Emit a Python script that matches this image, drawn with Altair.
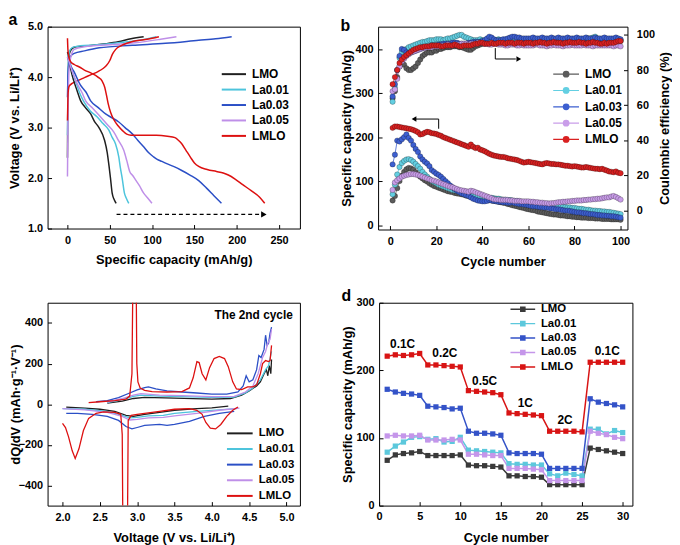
import altair as alt
import pandas as pd

FONT = "Liberation Sans"
SERIES = ["LMO", "La0.01", "La0.03", "La0.05", "LMLO"]
LINE_COLORS = ["#1f1f1f", "#4dc4dc", "#2b4fc6", "#bf8fe8", "#dd1010"]
B_FILL = ["#5c5c5c", "#63cfe2", "#3d5fd0", "#c99de9", "#d92121"]
D_COLORS = ["#3a3a3a", "#5cc8dc", "#3453c8", "#c596ea", "#d81414"]

# ---------------- panel a : charge / discharge profiles ----------------
A_CHG_CAP = {
    "LMO": [0, 0.3, 0.7, 1.2, 2, 5, 10, 25, 45, 60, 75, 90],
    "La0.01": [0, 0.3, 0.7, 1.2, 2.5, 6, 15, 35, 60, 85, 105],
    "La0.03": [0, 0.3, 0.8, 2, 4, 8, 20, 37.6, 76.7, 115.8, 155, 175, 194],
    "La0.05": [0, 0.3, 0.8, 2, 4, 8, 20, 50, 80, 110, 128.7],
    "LMLO": [0, 0.3, 0.8, 2, 6, 12, 20, 28, 36, 42, 46, 50, 53, 57, 63, 70, 78, 90, 100, 108],
}
A_CHG_V = {
    "LMO": [2.4, 3.2, 3.9, 4.25, 4.45, 4.56, 4.6, 4.62, 4.66, 4.7, 4.76, 4.8],
    "La0.01": [2.85, 3.3, 4.0, 4.35, 4.52, 4.59, 4.62, 4.64, 4.68, 4.73, 4.8],
    "La0.03": [3.6, 3.85, 4.1, 4.3, 4.42, 4.47, 4.52, 4.58, 4.63, 4.67, 4.73, 4.76, 4.8],
    "La0.05": [2.03, 2.6, 3.4, 4.2, 4.4, 4.55, 4.6, 4.64, 4.68, 4.75, 4.8],
    "LMLO": [3.14, 3.4, 3.7, 3.82, 3.88, 3.93, 3.99, 4.05, 4.11, 4.17, 4.23, 4.33, 4.45, 4.55, 4.62, 4.67, 4.71, 4.74, 4.77, 4.8],
}
A_DIS_CAP = {
    "LMO": [0, 2, 4, 7, 11, 15.6, 21, 27.4, 32, 37.2, 43.8, 47, 49, 50.8, 52.8, 55, 57.5],
    "La0.01": [0, 3, 6, 10, 14, 18.8, 27, 35.2, 42, 48.9, 53, 56.7, 60.6, 62.5, 64.6, 67.3, 69.5, 72.4],
    "La0.03": [0, 3, 8, 15, 22, 27.4, 36, 45, 52, 60.6, 68, 76.3, 83, 90, 96, 101.7, 106, 111.5, 118, 125.2, 135, 144.7, 155, 164.3, 173, 181.9],
    "La0.05": [0, 3, 7, 12, 17, 21.5, 30, 39.1, 47, 54.8, 60, 66.5, 70, 73.5, 77, 80.2, 85, 90, 95, 99.8],
    "LMLO": [0, 0.5, 1.5, 4, 8, 14, 20, 28, 36, 41, 44, 46, 48, 51, 55, 60, 65, 70, 75, 90, 105, 118, 127, 131, 135, 140, 145, 150, 155, 165, 176, 184, 190, 198, 207, 217, 227, 233],
}
A_DIS_V = {
    "LMO": [4.5, 4.35, 4.15, 3.95, 3.75, 3.53, 3.4, 3.27, 3.12, 3.0, 2.75, 2.5, 2.25, 2.0, 1.7, 1.58, 1.5],
    "La0.01": [4.45, 4.3, 4.1, 3.9, 3.7, 3.53, 3.33, 3.21, 3.08, 2.95, 2.8, 2.68, 2.42, 2.2, 2.0, 1.7, 1.6, 1.5],
    "La0.03": [4.4, 4.25, 4.1, 3.85, 3.7, 3.53, 3.4, 3.27, 3.2, 3.11, 3.0, 2.88, 2.75, 2.62, 2.5, 2.42, 2.37, 2.33, 2.28, 2.23, 2.15, 2.06, 1.95, 1.8, 1.65, 1.5],
    "La0.05": [4.4, 4.25, 4.05, 3.85, 3.7, 3.53, 3.38, 3.21, 3.06, 2.91, 2.75, 2.55, 2.35, 2.13, 2.05, 1.97, 1.85, 1.7, 1.6, 1.5],
    "LMLO": [4.77, 4.55, 4.4, 4.3, 4.25, 4.2, 4.14, 4.08, 4.0, 3.92, 3.8, 3.65, 3.48, 3.3, 3.15, 3.03, 2.94, 2.87, 2.85, 2.85, 2.85, 2.83, 2.8, 2.75, 2.68, 2.55, 2.42, 2.3, 2.23, 2.17, 2.13, 2.1, 2.06, 1.98, 1.87, 1.75, 1.62, 1.5],
}
A_ARROW_CAP = [58, 229]
A_ARROW_HEAD_CAP = [232]
A_ARROW_V = [1.28]

# ---------------- panel b : cycling ----------------
B_CAP = {
    "LMO": [56, 66, 84, 100, 112, 121, 127, 130, 129, 126, 120, 115, 110, 106, 102, 99, 95, 92, 89, 87,
            85, 83, 81, 79, 77, 76, 75, 73, 72, 71, 70, 69, 67, 66, 65, 64, 63, 62, 61, 60,
            59, 58, 57, 56, 55, 54, 53, 52, 51, 50, 48, 47, 45, 44, 43, 41, 40, 39, 37, 36,
            35, 34, 33, 31, 30, 29, 28, 27, 26, 25, 24, 24, 23, 22, 22, 21, 20, 20, 19, 19,
            18, 18, 17, 17, 17, 16, 16, 16, 15, 15, 15, 14, 14, 14, 14, 13, 13, 13, 13, 12],
    "La0.01": [70, 92, 115, 132, 141, 146, 149, 150, 148, 144, 139, 134, 128, 121, 115, 110, 105, 101, 98, 95,
               92, 90, 88, 86, 84, 82, 80, 79, 78, 76, 75, 74, 72, 71, 70, 68, 67, 66, 65, 64,
               63, 63, 62, 62, 61, 60, 60, 59, 58, 58, 57, 57, 56, 55, 55, 54, 53, 52, 51, 50,
               50, 49, 48, 47, 47, 46, 46, 45, 45, 44, 44, 43, 43, 42, 42, 41, 40, 40, 39, 39,
               38, 37, 37, 36, 35, 35, 34, 33, 33, 32, 32, 31, 31, 30, 30, 29, 28, 27, 26, 25],
    "La0.03": [138, 160, 192, 190, 195, 200, 206, 198, 192, 182, 173, 166, 156, 149, 144, 140, 134, 125, 121, 117,
               114, 110, 105, 100, 95, 90, 86, 82, 78, 75, 72, 70, 68, 66, 63, 60, 58, 56, 55, 54,
               54, 55, 57, 56, 55, 54, 53, 53, 52, 52, 51, 51, 52, 50, 49, 48, 48, 47, 46, 45,
               44, 43, 43, 42, 41, 41, 40, 40, 39, 38, 37, 36, 36, 35, 34, 33, 33, 32, 31, 30,
               29, 29, 28, 27, 27, 26, 25, 25, 24, 23, 23, 22, 22, 21, 21, 20, 20, 19, 18, 17],
    "La0.05": [80, 97, 102, 106, 110, 112, 114, 115, 116, 116, 115, 114, 112, 110, 108, 106, 104, 102, 101, 99,
               97, 95, 93, 91, 89, 87, 86, 84, 82, 80, 79, 78, 77, 76, 78, 77, 75, 73, 71, 69,
               67, 65, 63, 61, 59, 58, 58, 57, 57, 57, 57, 56, 56, 55, 55, 55, 54, 54, 54, 54,
               53, 53, 52, 52, 51, 51, 50, 50, 49, 50, 50, 51, 52, 52, 53, 53, 54, 54, 55, 55,
               56, 56, 56, 57, 57, 58, 58, 59, 59, 60, 60, 61, 62, 63, 63, 65, 66, 64, 61, 58],
    "LMLO": [221, 224, 224, 223, 222, 221, 220, 219, 218, 216, 214, 211, 206, 207, 210, 212, 211, 209, 208, 207,
             205, 203, 200, 198, 196, 194, 192, 190, 188, 186, 184, 182, 180, 178, 183, 178, 175, 176, 172, 170,
             168, 165, 162, 160, 158, 157, 156, 155, 155, 154, 152, 151, 150, 149, 148, 146, 144, 142, 143, 144,
             143, 142, 141, 140, 139, 138, 140, 141, 140, 139, 139, 138, 138, 137, 136, 135, 135, 134, 133, 134,
             133, 132, 131, 131, 132, 131, 130, 129, 128, 128, 127, 128, 126, 124, 122, 121, 120, 122, 119, 118],
}
B_CE = {
    "LMO": [64, 68, 76, 82, 84, 83, 81, 80, 80, 81, 82, 84, 86, 88, 89, 90, 90, 90, 91, 91,
            92, 92, 92.5, 93, 93, 93, 93.5, 93.5, 93.5, 93, 93, 92.5, 92, 91.5, 91.5, 92.5, 93.5, 94, 94.5, 95,
            95, 95.5, 95, 95, 95.5, 95.5, 95, 95.5, 96, 96, 96, 96, 96.5, 96, 96, 96, 96.5, 96, 96, 96,
            96, 96.5, 96, 96, 96.5, 96, 96, 96.5, 96, 96, 96.5, 96, 96, 96.5, 96, 96, 96.5, 96, 96, 96,
            96.5, 96, 96, 96.5, 96, 96, 96, 96.5, 96, 96, 96.5, 96, 96, 96.5, 96, 96, 96.5, 96, 96, 96.5],
    "La0.01": [62, 70, 80, 87, 90, 91, 92, 93, 93.5, 94, 94.5, 95, 95.5, 96, 96, 96.5, 97, 97, 97, 97.5,
               97.5, 97.5, 97, 97.5, 98, 98, 98.5, 99, 99.5, 100, 100, 99, 98.5, 98, 97.5, 97, 97, 97, 97.5, 97,
               97, 97, 97.5, 97.5, 97, 97, 97.5, 97, 97, 97, 97.5, 97.5, 98, 98, 97.5, 97.5, 97, 97, 97.5, 97.5,
               97.5, 97, 97, 97.5, 97.5, 97.5, 97, 97, 97.5, 97.5, 97, 97, 97.5, 97.5, 97, 97.5, 97.5, 97, 97.5, 97.5,
               97.5, 97, 97.5, 97.5, 97.5, 98, 98, 98.5, 99, 98, 97.5, 97.5, 97, 97.5, 97.5, 97, 97.5, 97, 97.5, 97],
    "La0.03": [65, 72, 80, 88, 92, 91.5, 90, 89.5, 90, 90.5, 91, 91.5, 92, 92.5, 93, 93, 93.5, 94, 94, 94,
               94.5, 94.5, 95, 95, 95, 95, 95.5, 95.5, 95.5, 95, 95, 95, 95, 95.5, 95.5, 96, 96, 96, 96, 96.5,
               97, 98, 99, 98.5, 97.5, 97, 97, 97, 97.5, 97.5, 98, 98.5, 99, 99, 98.5, 98.5, 98, 98, 98, 98,
               98, 98.5, 98, 98, 98, 98.5, 98, 98, 98, 98.5, 98, 98, 98.5, 98, 98, 98, 98.5, 98, 98, 98,
               98.5, 98, 98, 98, 98.5, 98, 98, 98, 98.5, 98, 98, 98, 98.5, 98, 98, 98, 98, 98.5, 98, 97.5],
    "La0.05": [68, 69, 75, 82, 85, 86.5, 88, 89, 90, 90.5, 91, 91.5, 92, 92.5, 92.5, 93, 93, 93, 93.5, 93.5,
               93.5, 94, 94, 94, 94.5, 94, 94, 94.5, 94.5, 94.5, 95, 95, 95, 94.5, 95, 95, 95, 95.5, 95.5, 95.5,
               95, 95, 94.5, 94.5, 95, 95, 94.5, 94.5, 94.5, 94, 94, 94.5, 94.5, 94.5, 94, 94, 94.5, 94, 94, 94,
               94, 94, 94.5, 94.5, 94, 94, 94, 93.5, 94, 94, 94.5, 94, 94, 94, 93.5, 94, 94, 94, 94.5, 94,
               94, 94, 94, 94.5, 94, 94, 94, 93.5, 94, 94, 94, 94, 94, 94, 94, 94, 93.5, 94, 94, 93.5],
    "LMLO": [72, 76, 80, 84, 86, 87.5, 88.5, 89.5, 90.5, 91.5, 92, 92.5, 93, 93, 93.5, 93.5, 93.5, 94, 94, 94,
             94, 93.5, 93.5, 94, 94, 94, 94, 94.5, 94, 93.5, 93.5, 94, 94, 94, 94, 94.5, 95, 95, 95.5, 95.5,
             95, 95, 95, 95.5, 95, 95, 95.5, 95.5, 95.5, 95, 95.5, 95.5, 95.5, 95, 95.5, 95.5, 95.5, 95, 95.5, 95.5,
             95.5, 95, 95.5, 95.5, 96, 95.5, 95.5, 95, 95.5, 95.5, 96, 95.5, 95.5, 95.5, 95, 95.5, 95.5, 96, 95.5, 95.5,
             95.5, 96, 95.5, 95.5, 95, 95.5, 95.5, 96, 95.5, 95.5, 95, 95, 95.5, 95, 95.5, 95.5, 95.5, 96, 96.5, 96.5],
}
B_CAP_ARROW_X = [21, 21, 11]
B_CAP_ARROW_Y = [219, 241, 241]
B_CAP_HEAD = [10.3, 241]
B_CE_ARROW_X = [45.6, 45.6, 54.5]
B_CE_ARROW_Y = [92.5, 86.3, 86.3]
B_CE_HEAD = [55.8, 86.3]

# ---------------- panel c : dQ/dV ----------------
C_CHG_V = {
    "LMO": [2.6, 2.8, 2.95, 3.1, 3.5, 4.0, 4.25, 4.4, 4.5, 4.6, 4.65, 4.7, 4.73, 4.75, 4.77, 4.79, 4.8],
    "La0.01": [2.6, 2.8, 2.95, 3.05, 3.3, 3.6, 4.0, 4.3, 4.45, 4.55, 4.65, 4.72, 4.76, 4.8],
    "La0.03": [2.45, 2.6, 2.75, 2.9, 3.0, 3.1, 3.15, 3.25, 3.4, 3.6, 3.8, 4.0, 4.2, 4.35, 4.42, 4.46, 4.5, 4.55, 4.6, 4.63, 4.66, 4.7, 4.72, 4.74, 4.76, 4.78, 4.8],
    "La0.05": [2.6, 2.8, 2.95, 3.05, 3.3, 3.6, 4.0, 4.3, 4.45, 4.55, 4.62, 4.68, 4.72, 4.75, 4.78, 4.8],
    "LMLO": [2.35, 2.5, 2.7, 2.85, 2.9, 2.93, 2.945, 2.965, 2.985, 2.995, 3.01, 3.04, 3.1, 3.2, 3.4, 3.6, 3.7, 3.75, 3.8, 3.83, 3.87, 3.92, 3.97, 4.03, 4.1, 4.17, 4.22, 4.28, 4.33, 4.4, 4.48, 4.55, 4.6, 4.65, 4.68, 4.72, 4.76, 4.78, 4.8],
}
C_CHG_D = {
    "LMO": [5, 15, 28, 33, 30, 25, 28, 45, 65, 90, 110, 150, 170, 140, 190, 150, 220],
    "La0.01": [8, 22, 38, 45, 40, 37, 33, 35, 55, 80, 120, 170, 190, 260],
    "La0.03": [12, 18, 32, 55, 70, 82, 85, 75, 65, 60, 55, 50, 50, 60, 90, 140, 110, 120, 170, 240, 230, 270, 340, 290, 300, 350, 380],
    "La0.05": [10, 28, 45, 52, 45, 42, 37, 38, 60, 90, 150, 230, 260, 300, 320, 370],
    "LMLO": [8, 12, 17, 25, 40, 150, 700, 1300, 700, 200, 110, 80, 68, 62, 60, 62, 80, 130, 210, 205, 150, 120, 180, 225, 235, 225, 185, 110, 75, 72, 85, 85, 95, 150, 200, 215, 210, 215, 290],
}
C_DIS_V = {
    "LMO": [4.22, 4.0, 3.8, 3.5, 3.3, 3.1, 2.95, 2.85, 2.7, 2.5, 2.3, 2.05],
    "La0.01": [4.33, 4.1, 3.8, 3.5, 3.35, 3.15, 3.0, 2.9, 2.8, 2.6, 2.3, 2.0],
    "La0.03": [4.3, 4.1, 3.9, 3.7, 3.5, 3.4, 3.3, 3.1, 3.0, 2.93, 2.85, 2.75, 2.6, 2.4, 2.2, 2.05],
    "La0.05": [4.37, 4.1, 3.8, 3.5, 3.35, 3.15, 3.0, 2.9, 2.8, 2.6, 2.3, 2.0],
    "LMLO": [4.35, 4.28, 4.2, 4.12, 4.05, 3.98, 3.92, 3.87, 3.8, 3.7, 3.5, 3.3, 3.1, 3.0, 2.92, 2.88, 2.87, 2.84, 2.81, 2.8, 2.78, 2.7, 2.55, 2.45, 2.35, 2.28, 2.22, 2.17, 2.13, 2.08, 2.04, 2.0],
}
C_DIS_D = {
    "LMO": [-10, -18, -22, -30, -40, -50, -60, -55, -35, -25, -20, -15],
    "La0.01": [-22, -28, -35, -45, -55, -58, -65, -68, -55, -35, -25, -22],
    "La0.03": [-35, -45, -60, -85, -100, -105, -100, -105, -115, -122, -110, -80, -60, -50, -45, -45],
    "La0.05": [-20, -30, -45, -58, -65, -68, -75, -78, -60, -40, -28, -22],
    "LMLO": [-14, -30, -60, -100, -122, -118, -90, -50, -30, -22, -25, -35, -45, -50, -55, -80, -600, -1300, -700, -150, -50, -40, -38, -45, -70, -130, -220, -268, -230, -160, -115, -95],
}
C_NOTE = ["The 2nd cycle"]
C_NOTE_V = [5.085]
C_NOTE_D = [437]

# ---------------- panel d : rate capability ----------------
D_CAP = {
    "LMO": [67, 75, 77, 78, 80, 74, 74, 74, 74, 75, 60, 59, 59, 58, 57, 44, 44, 43, 43, 42, 31, 31, 31, 31, 31, 85, 83, 81, 79, 77],
    "La0.01": [79, 88, 94, 101, 102, 98, 99, 94, 95, 101, 82, 81, 80, 79, 78, 62, 61, 61, 60, 60, 47, 44, 48, 46, 44, 113, 113, 106, 111, 108],
    "La0.03": [172, 168, 166, 165, 163, 147, 146, 145, 143, 144, 110, 107, 107, 106, 104, 78, 77, 77, 77, 76, 55, 55, 55, 55, 55, 158, 153, 151, 149, 146],
    "La0.05": [103, 104, 103, 103, 104, 97, 97, 97, 98, 97, 76, 76, 75, 74, 74, 55, 55, 55, 54, 53, 37, 37, 37, 37, 37, 110, 107, 105, 101, 99],
    "LMLO": [221, 223, 222, 223, 225, 208, 208, 207, 206, 205, 170, 169, 168, 167, 164, 137, 136, 135, 134, 133, 110, 110, 110, 110, 109, 212, 212, 212, 212, 212],
}
D_RATE_TEXT = ["0.1C", "0.2C", "0.5C", "1C", "2C", "0.1C"]
D_RATE_X = [2.9, 8.1, 13.0, 18.0, 22.9, 28.1]
D_RATE_Y = [239, 225, 184, 151, 126, 228]


# ---------------- helpers ----------------
def axis(values, title, orient, fmt=None, pad=9, titleX=None, titleY=None,
         angle=None, base=None):
    kw = dict(values=values, title=title, orient=orient, tickSize={"expr": "-4"},
              tickColor="black", tickWidth=1, labelPadding=pad, labelFont=FONT,
              labelFontSize=11, labelFontWeight="bold", labelColor="black", titleFont=FONT,
              titleFontSize=13, titleFontWeight="bold", titleColor="black", domain=False,
              grid=False, labelFlush=False, labelOverlap=False)
    if fmt:
        kw["format"] = fmt
    if titleX is not None:
        kw["titleX"] = titleX
    if titleY is not None:
        kw["titleY"] = titleY
    if angle is not None:
        kw["titleAngle"] = angle
    if base:
        kw["titleBaseline"] = base
    return alt.Axis(**kw)


def legend(x, y, rowpad, fs, symtype, symsize, symw, loff):
    return alt.Legend(title=None, orient="none", legendX=x, legendY=y, direction="vertical",
                      padding=0, rowPadding=rowpad, labelFont=FONT, labelFontSize=fs,
                      labelFontWeight="bold", labelColor="black", labelOffset=loff,
                      symbolType=symtype, symbolSize=symsize, symbolStrokeWidth=symw,
                      symbolOpacity=1)


def ptitle(t):
    return alt.TitleParams(text=t, anchor="start", frame="bounds", fontSize=16,
                           fontWeight="bold", font=FONT, offset=-7, color="black")


def curve_df(xd, yd, seg):
    rows = []
    for s in SERIES:
        for i, (x, y) in enumerate(zip(xd[s], yd[s])):
            rows.append(dict(series=s, seg=f"{s}-{seg}", i=i, x=x, y=y))
    return rows


def circle_path(r):
    return f"M{-r},0A{r},{r},0,1,0,{r},0A{r},{r},0,1,0,{-r},0"


def square_path(h):
    return f"M{-h},{-h}H{h}V{h}H{-h}Z"


# ---------------- panel a ----------------
df_a = pd.DataFrame(curve_df(A_CHG_CAP, A_CHG_V, "c") + curve_df(A_DIS_CAP, A_DIS_V, "d"))
xa = alt.Scale(domain=[-23.5, 274.6], nice=False, zero=False)
ya = alt.Scale(domain=[1, 5], nice=False, zero=False)
a_lines = alt.Chart(df_a).mark_line(strokeWidth=1.5, clip=True, interpolate="monotone").encode(
    x=alt.X("x:Q", scale=xa, axis=axis([0, 50, 100, 150, 200, 250], "Specific capacity (mAh/g)",
                                       "bottom", pad=10, titleY=35, base="alphabetic")),
    y=alt.Y("y:Q", scale=ya, axis=axis([1, 1.5, 2, 2.5, 3, 3.5, 4, 4.5, 5], "Voltage (V vs. Li/Li⁺)",
                                       "left", fmt=".1f", titleX=-33.5, base="middle")),
    color=alt.Color("series:N", scale=alt.Scale(domain=SERIES, range=LINE_COLORS),
                    legend=legend(181.25, 41, 2.6, 12, "M-2.04,0H2.04", 144, 2, 11.25)),
    detail="seg:N",
    order="i:Q",
)
df_a_arrow = pd.DataFrame({"x": [A_ARROW_CAP[0]], "x2": [A_ARROW_CAP[1]], "y": A_ARROW_V})
a_arrow = alt.Chart(df_a_arrow).mark_rule(color="black", strokeWidth=1.2, strokeDash=[4, 3]).encode(
    x="x:Q", x2="x2:Q", y="y:Q")
df_a_head = pd.DataFrame({"x": A_ARROW_HEAD_CAP, "y": A_ARROW_V})
a_head = alt.Chart(df_a_head).mark_point(shape="triangle-right", filled=True, size=40,
                                         color="black", opacity=1).encode(x="x:Q", y="y:Q")
chart_a = alt.layer(a_lines, a_arrow, a_head).properties(width=255, height=204, title=ptitle("a"))

# ---------------- panel b ----------------
rows_cap, rows_ce = [], []
for s in SERIES:
    for i, v in enumerate(B_CAP[s]):
        rows_cap.append(dict(series=s, cycle=i + 1, v=v))
    for i, v in enumerate(B_CE[s]):
        rows_ce.append(dict(series=s, cycle=i + 1, v=v))
df_cap = pd.DataFrame(rows_cap)
df_ce = pd.DataFrame(rows_ce)

xb = alt.Scale(domain=[-5.3, 103], nice=False, zero=False)
yb = alt.Scale(domain=[-10, 451], nice=False, zero=False)
yb2 = alt.Scale(domain=[-10.7, 104.7], nice=False, zero=False)
b_x_axis = axis([0, 20, 40, 60, 80, 100], "Cycle number", "bottom", pad=10, titleY=36,
                base="alphabetic")
b_sym = "M-2.17,0H2.17" + circle_path(0.47) + circle_path(0.28) + circle_path(0.1)
b_leg = legend(183, 41, 3.5, 12, b_sym, 144, 1.2, 12)
col_b = alt.Color("series:N", scale=alt.Scale(domain=SERIES, range=B_FILL), legend=b_leg)


def b_layer(df, yscale, yaxis, ax_x):
    base = alt.Chart(df).encode(
        x=alt.X("cycle:Q", scale=xb, axis=ax_x),
        y=alt.Y("v:Q", scale=yscale, axis=yaxis),
    )
    ln = base.mark_line(strokeWidth=0.8).encode(color=col_b, order="cycle:Q")
    pt = base.mark_point(shape="circle", filled=True, size=30, strokeWidth=0.7, opacity=1,
                         stroke="black", strokeOpacity=0.35).encode(color=col_b)
    return ln, pt


cap_ln, cap_pt = b_layer(df_cap, yb, axis([0, 100, 200, 300, 400], "Specific capacity (mAh/g)",
                                          "left", titleX=-32, base="middle"), b_x_axis)
ce_ln, ce_pt = b_layer(df_ce, yb2, axis([0, 20, 40, 60, 80, 100], "Coulombic efficiency (%)",
                                        "right", pad=13, titleX=37, angle=270, base="middle"),
                       b_x_axis)

df_cap_arrow = pd.DataFrame({"x": B_CAP_ARROW_X, "y": B_CAP_ARROW_Y, "i": [0, 1, 2]})
cap_arrow = alt.Chart(df_cap_arrow).mark_line(color="black", strokeWidth=1).encode(
    x=alt.X("x:Q", scale=xb), y=alt.Y("y:Q", scale=yb), order="i:Q")
cap_head = alt.Chart(pd.DataFrame({"x": [B_CAP_HEAD[0]], "y": [B_CAP_HEAD[1]]})).mark_point(
    shape="triangle-left", filled=True, size=30, color="black", opacity=1).encode(
    x=alt.X("x:Q", scale=xb), y=alt.Y("y:Q", scale=yb))
df_ce_arrow = pd.DataFrame({"x": B_CE_ARROW_X, "y": B_CE_ARROW_Y, "i": [0, 1, 2]})
ce_arrow = alt.Chart(df_ce_arrow).mark_line(color="black", strokeWidth=1).encode(
    x=alt.X("x:Q", scale=xb), y=alt.Y("y:Q", scale=yb2), order="i:Q")
ce_head = alt.Chart(pd.DataFrame({"x": [B_CE_HEAD[0]], "y": [B_CE_HEAD[1]]})).mark_point(
    shape="triangle-right", filled=True, size=30, color="black", opacity=1).encode(
    x=alt.X("x:Q", scale=xb), y=alt.Y("y:Q", scale=yb2))

left_b = alt.layer(cap_ln, cap_pt, cap_arrow, cap_head)
right_b = alt.layer(ce_ln, ce_pt, ce_arrow, ce_head)
chart_b = alt.layer(left_b, right_b).resolve_scale(y="independent").properties(
    width=252, height=205, title=ptitle("b"))

# ---------------- panel c ----------------
df_c = pd.DataFrame(curve_df(C_CHG_V, C_CHG_D, "c") + curve_df(C_DIS_V, C_DIS_D, "d"))
xc = alt.Scale(domain=[1.8, 5.18], nice=False, zero=False)
yc = alt.Scale(domain=[-500, 500], nice=False, zero=False)
c_lines = alt.Chart(df_c).mark_line(strokeWidth=1.3, clip=True).encode(
    x=alt.X("x:Q", scale=xc, axis=axis([2.0, 2.5, 3.0, 3.5, 4.0, 4.5, 5.0], "Voltage (V vs. Li/Li⁺)",
                                       "bottom", fmt=".1f", pad=10.5, titleY=36, base="alphabetic")),
    y=alt.Y("y:Q", scale=yc, axis=axis([-400, -200, 0, 200, 400], "dQ/dV (mAh·g⁻¹·V⁻¹)",
                                       "left", titleX=-32.5, base="middle")),
    color=alt.Color("series:N", scale=alt.Scale(domain=SERIES, range=LINE_COLORS),
                    legend=legend(187.25, 125, 2.8, 11.5, "M-2.26,0H2.26", 132, 2, 12.25)),
    detail="seg:N",
    order="i:Q",
)
c_note = alt.Chart(pd.DataFrame({"t": C_NOTE, "x": C_NOTE_V, "y": C_NOTE_D})).mark_text(
    align="right", baseline="middle", font=FONT, fontSize=12, fontWeight="bold", color="black").encode(
    x=alt.X("x:Q", scale=xc), y=alt.Y("y:Q", scale=yc), text="t:N")
chart_c = alt.layer(c_lines, c_note).properties(width=255, height=205, title=ptitle(" "))

# ---------------- panel d ----------------
rows_d = []
for s in SERIES:
    for i, v in enumerate(D_CAP[s]):
        rows_d.append(dict(series=s, cycle=i + 1, v=v))
df_d = pd.DataFrame(rows_d)
xd = alt.Scale(domain=[0, 31.2], nice=False, zero=False)
yd = alt.Scale(domain=[0, 300], nice=False, zero=False)
d_sym = "M-2.17,0H2.17" + square_path(0.36) + square_path(0.2) + square_path(0.05)
d_leg = legend(138.75, 0, 2.6, 11.5, d_sym, 132, 1.5, 11.75)
col_d = alt.Color("series:N", scale=alt.Scale(domain=SERIES, range=D_COLORS), legend=d_leg)
d_base = alt.Chart(df_d).encode(
    x=alt.X("cycle:Q", scale=xd, axis=axis([0, 5, 10, 15, 20, 25, 30], "Cycle number", "bottom",
                                           pad=9, titleY=36, base="alphabetic")),
    y=alt.Y("v:Q", scale=yd, axis=axis([0, 50, 100, 150, 200, 250, 300], "Specific capacity (mAh/g)",
                                       "left", titleX=-32, base="middle")),
)
d_ln = d_base.mark_line(strokeWidth=1.5).encode(color=col_d, order="cycle:Q")
d_pt = d_base.mark_point(shape="square", filled=True, size=28, opacity=1).encode(color=col_d)
d_txt = alt.Chart(pd.DataFrame({"t": D_RATE_TEXT, "x": D_RATE_X, "y": D_RATE_Y})).mark_text(
    font=FONT, fontSize=12, fontWeight="bold", color="black", baseline="middle").encode(
    x=alt.X("x:Q", scale=xd), y=alt.Y("y:Q", scale=yd), text="t:N")
chart_d = alt.layer(d_ln, d_pt, d_txt).properties(width=256, height=205, title=ptitle("d"))

top = alt.hconcat(chart_a, chart_b, spacing=39).resolve_scale(color="independent").resolve_legend(color="independent")
bottom = alt.hconcat(chart_c, chart_d, spacing=40).resolve_scale(color="independent").resolve_legend(color="independent")
chart = alt.vconcat(top, bottom, spacing=18).resolve_scale(color="independent").resolve_legend(
    color="independent").properties(
    padding={"left": 0, "top": 0, "right": 0, "bottom": 0}, background="white"
).configure(font=FONT).configure_view(stroke="black", strokeWidth=1)

chart.save("out.html", embed_options={"renderer": "svg", "actions": False})
